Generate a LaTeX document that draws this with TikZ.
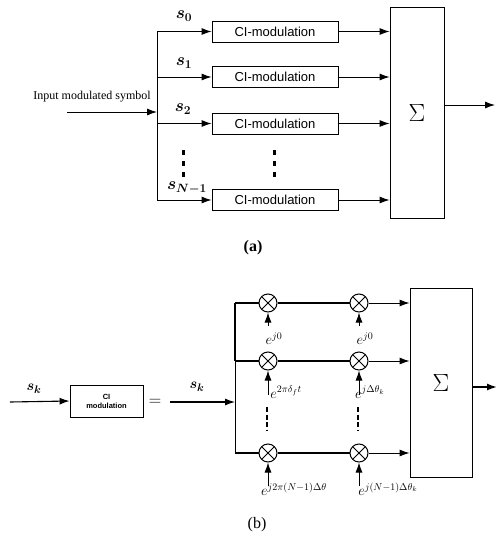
\documentclass[tikz,border=0pt]{standalone}
\usepackage{fontspec}
\setmainfont{Liberation Serif}
\newfontfamily\arial{Liberation Sans}
\usetikzlibrary{arrows.meta}
\begin{document}
\begin{tikzpicture}[x=1pt,y=-1pt,
  arr/.style={-{Latex[length=10pt,width=7pt]}},
  line width=0.9pt,
  cimod/.style={draw, line width=0.9pt, minimum width=126pt, minimum height=21pt, inner sep=0pt, font=\arial\fontsize{13}{13}\selectfont},
  sumbox/.style={draw, line width=0.9pt, inner sep=0pt, font=\fontsize{28}{28}\selectfont},
  mix/.style={draw, circle, line width=1pt, minimum size=18pt, inner sep=0pt,
    path picture={\draw[line width=1pt] (path picture bounding box.north west) -- (path picture bounding box.south east)
      (path picture bounding box.north east) -- (path picture bounding box.south west);}},
  slab/.style={font=\fontsize{18}{18}\selectfont\boldmath, inner sep=0pt},
  elab/.style={font=\fontsize{14}{14}\selectfont, inner sep=0pt},
  dotcol/.style={line width=3pt, dash pattern=on 5pt off 6pt},
  dashcol/.style={line width=2.5pt, dash pattern=on 5pt off 2.5pt}
]
\useasboundingbox (0,0) rectangle (497,544);

% ---------------- (a) ----------------
\coordinate (inA) at (67,112);
\coordinate (busA) at (157,112);
\coordinate (b0) at (157,31.5);
\coordinate (b1) at (157,77);
\coordinate (b2) at (157,123.5);
\coordinate (b3) at (157,200);
\node[cimod] (m0) at (275,31.5) {CI-modulation};
\node[cimod] (m1) at (275,77) {CI-modulation};
\node[cimod] (m2) at (275,123.5) {CI-modulation};
\node[cimod] (m3) at (275,200) {CI-modulation};
\node[sumbox, minimum width=54pt, minimum height=211pt] (sa) at (417,112.5) {$\Sigma$};
\coordinate (outA) at (495,105);

\node[font=\fontsize{12}{12}\selectfont, inner sep=0pt] (lin) at (92,97) {Input modulated symbol};
\draw[arr] (inA) -- (busA);
\draw (b0) -- (b3);
\foreach \i in {0,1,2,3} {
  \draw[arr] (b\i) -- (m\i.west);
  \draw[arr] (m\i.east) -- (m\i.east -| sa.west);
}
\draw[arr] (sa.east |- outA) -- (outA);

\node[slab] (s0) at (184,16) {$s_0$};
\node[slab] (s1) at (184,63) {$s_1$};
\node[slab] (s2) at (183,109) {$s_2$};
\node[slab] (s3) at (187,188) {$s_{N-1}$};

\coordinate (d1a) at (183,150);
\coordinate (d1b) at (183,178);
\coordinate (d2a) at (274,150);
\coordinate (d2b) at (274,178);
\draw[dotcol] (d1a) -- (d1b);
\draw[dotcol] (d2a) -- (d2b);

\node[font=\fontsize{16}{16}\selectfont\bfseries, inner sep=0pt] (capa) at (253,248) {(a)};

% ---------------- (b) ----------------
\coordinate (inB) at (10,402);
\node[draw, line width=0.9pt, minimum width=73pt, minimum height=32pt, inner sep=0pt,
  font=\arial\bfseries\fontsize{7.5}{9}\selectfont, align=center] (cib) at (106.5,401) {CI\\modulation};
\node[font=\fontsize{18}{18}\selectfont, inner sep=0pt] (eq) at (155,402) {$=$};
\coordinate (inB2) at (170,402);
\coordinate (busB) at (235,402);
\coordinate (c1) at (235,303);
\coordinate (c2) at (235,361);
\coordinate (c3) at (235,453);
\draw[line width=1.1pt,arr] (inB) -- (cib.west);
\draw[line width=1.1pt,arr] (inB2) -- (busB);
\node[font=\fontsize{15}{15}\selectfont\boldmath, inner sep=0pt] (sk1) at (34,389) {$s_k$};
\node[font=\fontsize{15}{15}\selectfont\boldmath, inner sep=0pt] (sk2) at (197,387) {$s_k$};

\node[sumbox, font=\fontsize{24}{24}\selectfont, minimum width=62pt, minimum height=189pt] (sb) at (441,382.5) {$\Sigma$};
\coordinate (outB) at (497,387);

\draw[line width=1.3pt] (c1) -- (c2);
\draw (c2) -- (c3);
\foreach \r/\y in {1/303,2/361,3/453} {
  \node[mix] (x\r a) at (268,\y) {};
  \node[mix] (x\r b) at (359,\y) {};
  \draw[line width=1.1pt] (c\r) -- (x\r a.west);
  \draw[line width=1.2pt] (x\r a.east) -- (x\r b.west);
  \draw[arr] (x\r b.east) -- (x\r b.east -| sb.west);
}
\draw[line width=1.5pt,arr] (sb.east |- outB) -- (outB);

\coordinate (p1a) at (268,326);
\coordinate (p1b) at (359,326);
\coordinate (p2a) at (268,395);
\coordinate (p2b) at (359,395);
\coordinate (p3a) at (268,486);
\coordinate (p3b) at (359,486);
\foreach \r in {1,2,3} {
  \draw[arr] (p\r a) -- (x\r a.south);
  \draw[arr] (p\r b) -- (x\r b.south);
}
\node[elab] (e1a) at (274,339) {$e^{j0}$};
\node[elab] (e1b) at (365,339) {$e^{j0}$};
\node[elab] (e2a) at (286,392) {$e^{2\pi\delta_f t}$};
\node[elab] (e2b) at (370,392) {$e^{j\Delta\theta_k}$};
\node[elab] (e3a) at (294,489) {$e^{j2\pi(N-1)\Delta\theta}$};
\node[elab] (e3b) at (388,489) {$e^{j(N-1)\Delta\theta_k}$};

\coordinate (q1a) at (267,407);
\coordinate (q1b) at (267,431);
\coordinate (q2a) at (358,407);
\coordinate (q2b) at (358,431);
\draw[dashcol] (q1a) -- (q1b);
\draw[dashcol] (q2a) -- (q2b);

\node[font=\fontsize{16}{16}\selectfont, inner sep=0pt] (capb) at (257,525) {(b)};
\end{tikzpicture}
\end{document}
